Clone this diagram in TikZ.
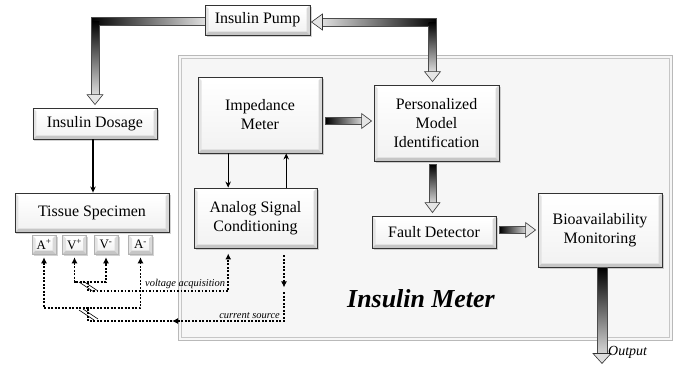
\documentclass[tikz,border=0pt]{standalone}
\usepackage{fontspec}
\setmainfont{Liberation Serif}
\usetikzlibrary{calc,shadows,arrows.meta}

\newcommand\bvw{3.5}
\newcommand\barR[2]{%
  \shadedraw[left color=black, right color=gray!30, draw=black!70, line width=.4bp] ($(#1)+(0,-3.5)$) rectangle ($(#2)+(-9,3.5)$);
  \filldraw[fill=gray!20, draw=black!80, line width=.6bp] ($(#2)+(-10,-7.5)$) -- (#2) -- ($(#2)+(-10,7.5)$) -- cycle;}
\newcommand\barD[2]{%
  \shadedraw[top color=black, bottom color=gray!30, draw=black!70, line width=.4bp] ($(#1)+(-3.5,0)$) rectangle ($(#2)+(3.5,-9)$);
  \filldraw[fill=gray!20, draw=black!80, line width=.6bp] ($(#2)+(-7.5,-10)$) -- (#2) -- ($(#2)+(7.5,-10)$) -- cycle;}

\tikzset{
  bev/.style={draw=black!80, line width=0.9bp, fill=white, align=center, inner sep=2bp,
    font=\fontsize{16}{19}\selectfont,
    drop shadow={shadow xshift=1.5bp, shadow yshift=-1.5bp, opacity=0.35},
    path picture={
      \coordinate (q1) at (path picture bounding box.north west);
      \coordinate (q2) at (path picture bounding box.north east);
      \coordinate (q3) at (path picture bounding box.south east);
      \coordinate (q4) at (path picture bounding box.south west);
      \shade[top color=white, bottom color=gray!10] ($(q1)+(\bvw,\bvw)$) rectangle ($(q3)+(-\bvw,-\bvw)$);
      \fill[white] (q1) -- (q2) -- ($(q2)+(-\bvw,\bvw)$) -- ($(q1)+(\bvw,\bvw)$) -- cycle;
      \fill[gray!22] (q1) -- ($(q1)+(\bvw,\bvw)$) -- ($(q4)+(\bvw,-\bvw)$) -- (q4) -- cycle;
      \fill[gray!30] (q2) -- (q3) -- ($(q3)+(-\bvw,-\bvw)$) -- ($(q2)+(-\bvw,\bvw)$) -- cycle;
      \fill[gray!45] (q4) -- (q3) -- ($(q3)+(-\bvw,-\bvw)$) -- ($(q4)+(\bvw,-\bvw)$) -- cycle;
    }},
  elec/.style={bev, draw=gray!60, line width=0.5bp, font=\fontsize{13}{15}\selectfont,
    minimum width=24bp, minimum height=19bp, inner sep=0bp},
  thinarr/.style={line width=1.2bp, -{Stealth[length=6bp,width=5.5bp]}},
  dotl/.style={line width=1.9bp, dash pattern=on 1.9bp off 1.6bp},
  ltip/.style={arrows={-Latex[length=6bp,width=6bp]}},
  btip/.style={arrows={Latex[length=6bp,width=6bp]-Latex[length=6bp,width=6bp]}},
  lab/.style={font=\fontsize{10.5}{12}\selectfont\itshape, inner sep=1bp},
}

\begin{document}
\begin{tikzpicture}[x=1bp,y=-1bp]
\useasboundingbox (0,0) rectangle (687,367);

% Insulin Meter enclosure
\draw[gray!55, line width=.8bp, fill=gray!7] (178,55) rectangle (672,340);
\draw[gray!45, line width=.6bp] (181,58) rectangle (669,337);
\node[font=\fontsize{26}{30}\selectfont\bfseries\itshape] (meterlab) at (421,299) {Insulin Meter};

% boxes
\node[bev, minimum width=105bp, minimum height=30bp] (pump) at (257.5,20) {Insulin Pump};
\node[bev, minimum width=124bp, minimum height=31bp] (dosage) at (95,123.5) {Insulin Dosage};
\node[bev, minimum width=154bp, minimum height=39bp] (tissue) at (92,212.5) {Tissue Specimen};
\node[bev, minimum width=124bp, minimum height=76bp] (imp) at (260,115) {Impedance\\Meter};
\node[bev, minimum width=123bp, minimum height=60bp] (asc) at (255.5,218) {Analog Signal\\Conditioning};
\node[bev, minimum width=125bp, minimum height=76bp] (pmi) at (436.5,123) {Personalized\\Model\\Identification};
\node[bev, minimum width=124bp, minimum height=32bp] (fd) at (434,232) {Fault Detector};
\node[bev, minimum width=124bp, minimum height=74bp] (bio) at (600,230) {Bioavailability\\Monitoring};

% electrodes
\node[elec] (ap) at (44,244.5) {A\textsuperscript{+}};
\node[elec] (vp) at (74.5,244.5) {V\textsuperscript{+}};
\node[elec] (vm) at (106,244.5) {V\textsuperscript{-}};
\node[elec] (am) at (140.5,244.5) {A\textsuperscript{-}};

% thin arrows
\coordinate (ds) at ($(dosage.south)+(-2,0)$);
\draw[thinarr] (ds) -- (ds |- tissue.north);
\coordinate (im1) at ($(imp.south west)!0.245!(imp.south east)$);
\draw[thinarr] (im1) -- (im1 |- asc.north);
\coordinate (im2) at ($(imp.south west)!0.71!(imp.south east)$);
\draw[thinarr] (im2 |- asc.north) -- (im2);

% pump loop, left part
\coordinate (pw) at ($(pump.west)+(0,1)$);
\coordinate (cL) at (dosage.north |- pw);
\coordinate (dtip) at ($(dosage.north)+(0,-3)$);
\shade[left color=black, right color=gray!25] ($(cL)+(-4,-4)$) rectangle ($(pw)+(0,4)$);
\shade[top color=black, bottom color=gray!25] ($(cL)+(-4,0)$) rectangle ($(dtip)+(4,-9)$);
\draw[black!70, line width=.4bp] ($(pw)+(0,-4)$) -- ($(cL)+(-4,-4)$) -- ($(dtip)+(-4,-9)$)
  ($(pw)+(0,4)$) -- ($(cL)+(4,4)$) -- ($(dtip)+(4,-9)$);
\filldraw[fill=gray!20, draw=black!80, line width=.6bp] ($(dtip)+(-8,-10)$) -- (dtip) -- ($(dtip)+(8,-10)$) -- cycle;

% pump loop, right part
\coordinate (pe) at ($(pump.east)+(1,2)$);
\coordinate (ptip) at ($(pmi.north)+(-4,-3)$);
\coordinate (cR) at (ptip |- pe);
\shade[left color=gray!25, right color=black] ($(pe)+(10,-4)$) rectangle ($(cR)+(4,4)$);
\shade[top color=black, bottom color=gray!25] ($(cR)+(-4,0)$) rectangle ($(ptip)+(4,-9)$);
\draw[black!70, line width=.4bp] ($(pe)+(10,-4)$) -- ($(cR)+(4,-4)$) -- ($(ptip)+(4,-9)$)
  ($(pe)+(10,4)$) -- ($(cR)+(-4,4)$) -- ($(ptip)+(-4,-9)$);
\filldraw[fill=gray!20, draw=black!80, line width=.6bp] ($(pe)+(11,-8)$) -- (pe) -- ($(pe)+(11,8)$) -- cycle;
\filldraw[fill=gray!20, draw=black!80, line width=.6bp] ($(ptip)+(-8,-10)$) -- (ptip) -- ($(ptip)+(8,-10)$) -- cycle;

% inner block arrows
\coordinate (ia) at ($(imp.east)+(3,6)$);
\coordinate (ib) at ($(pmi.west |- ia)+(-2,0)$);
\barR{ia}{ib}
\coordinate (pa) at ($(pmi.south)+(-4,3)$);
\coordinate (pb) at ($(pa |- fd.north)+(0,-3)$);
\barD{pa}{pb}
\coordinate (fa) at ($(fd.east)+(3,-2)$);
\coordinate (fb) at ($(bio.west |- fa)+(-2,0)$);
\barR{fa}{fb}

% output arrow
\coordinate (oa) at ($(bio.south)+(2,0)$);
\coordinate (ob) at ($(oa)+(0,96)$);
\shadedraw[top color=black, bottom color=gray!30, draw=black!70, line width=.4bp] ($(oa)+(-5,0)$) rectangle ($(ob)+(5,-9)$);
\filldraw[fill=gray!25, draw=black!80, line width=.6bp] ($(ob)+(-9,-10)$) -- (ob) -- ($(ob)+(9,-10)$) -- cycle;
\node[font=\fontsize{14}{16}\selectfont\itshape, anchor=west, inner sep=1bp] (outlab) at ($(oa)+(5,85)$) {Output};

% dotted measurement wiring
\coordinate (hV) at (88,282);
\coordinate (hVb) at (88,291);
\coordinate (hA) at (88,308);
\coordinate (hAb) at (88,321);
\coordinate (cmid) at (172,321);
\coordinate (ascV) at ($(asc.south west)!0.28!(asc.south east)$);
\coordinate (ascC) at ($(asc.south west)!0.73!(asc.south east)$);

\draw[dotl, btip] ($(ap.south)+(0,3)$) |- (hA) -| ($(am.south)+(0,3)$);
\draw[dotl, btip] ($(vp.south)+(0,3)$) |- (hV) -| ($(vm.south)+(0,3)$);
\draw[dotl, ltip] (hV) -- (hVb) -| ($(ascV)+(0,5)$);
\draw[dotl, ltip] ($(ascC)+(0,7)$) -- ($(ascC)+(0,39)$);
\draw[dotl, ltip] ($(ascC)+(0,44)$) |- (cmid);
\draw[dotl] (cmid) -- (hAb) -- (hA);

\node[lab, anchor=south east] (vlab) at ($(ascV |- hVb)+(-2,-1.5)$) {voltage acquisition};
\node[lab, anchor=south east] (clab) at ($(ascC |- hAb)+(-3,-1.5)$) {current source};

% bundle slashes
\draw[line width=.6bp] (79,282) -- (94,292) (83,281) -- (98,291);
\draw[line width=.6bp] (79,310) -- (94,320) (83,309) -- (98,319);
\end{tikzpicture}
\end{document}
